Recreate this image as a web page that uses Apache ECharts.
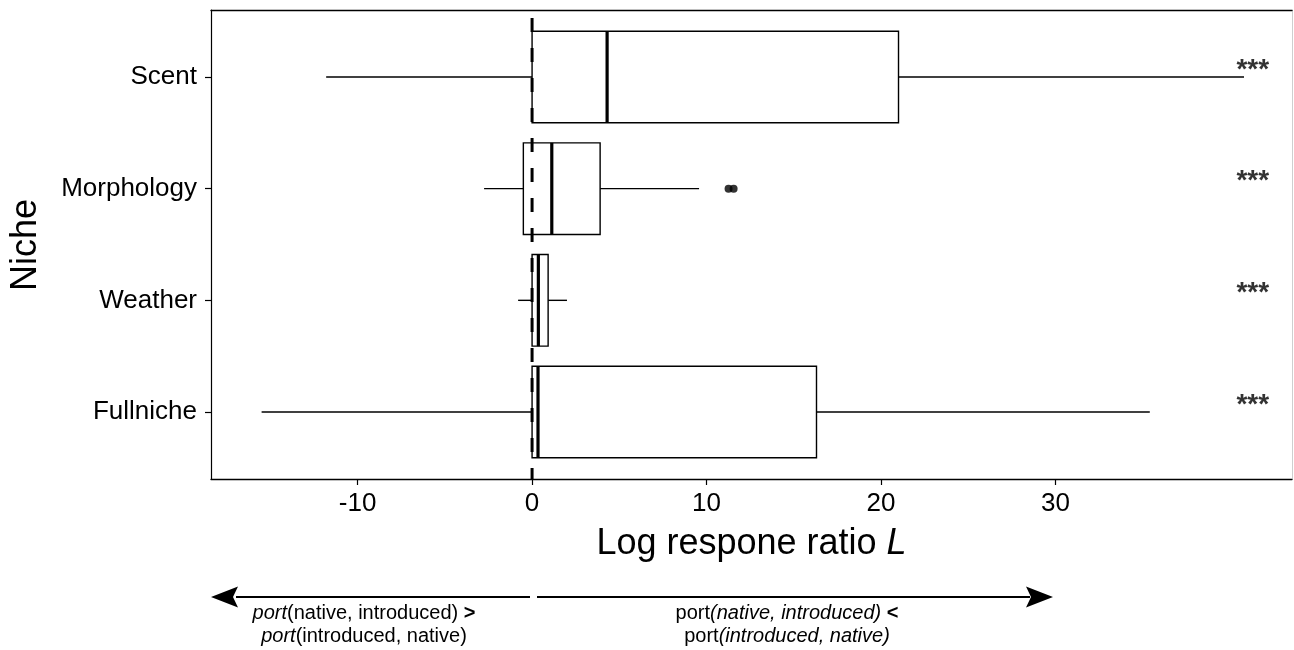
<!DOCTYPE html>
<html>
<head>
<meta charset="utf-8">
<script src="https://cdn.jsdelivr.net/npm/echarts@6/dist/echarts.min.js"></script>
<style>
html,body{margin:0;padding:0;background:#fff;}
#chart{width:1294px;height:650px;}
</style>
</head>
<body>
<div id="chart"></div>
<script>
// ---- data ----
const categories = ['Scent', 'Morphology', 'Weather', 'Fullniche'];
const whiskerLow  = [-11.8, -2.75, -0.8, -15.5];
const q1          = [0.0,  -0.5,   0.0,  0.0];
const medians     = [4.3,   1.13,  0.36, 0.34];
const q3          = [21.0,  3.9,   0.92, 16.3];
const whiskerHigh = [40.8,  9.57,  2.0,  35.4];
const outlierValues = [11.26, 11.55];
const outlierCats   = ['Morphology', 'Morphology'];
const significance = ['***', '***', '***', '***'];
const xTicks = [-10, 0, 10, 20, 30];
const xRange = [-18.4, 43.55];

const FONT = '"Liberation Sans", Arial, Helvetica, sans-serif';
const chart = echarts.init(document.getElementById('chart'), null, {renderer: 'canvas'});

const catPos = categories.map((c, i) => i + 1);
const boxData = categories.map((c, i) => [catPos[i], whiskerLow[i], q1[i], medians[i], q3[i], whiskerHigh[i]]);
const outlierData = outlierValues.map((v, i) => [v, categories.indexOf(outlierCats[i]) + 1]);
const starX = 41.3;
const starData = significance.map((s, i) => ({value: [starX, catPos[i]], label: {formatter: s}}));

const HALF = 0.41; // box half height in category units

function renderBox(params, api) {
  const y = api.value(0);
  const lo = api.value(1), a = api.value(2), m = api.value(3), b = api.value(4), hi = api.value(5);
  const pLo = api.coord([lo, y]);
  const pA = api.coord([a, y]);
  const pM = api.coord([m, y]);
  const pB = api.coord([b, y]);
  const pHi = api.coord([hi, y]);
  const top = api.coord([a, y - HALF])[1];
  const bot = api.coord([a, y + HALF])[1];
  const line = {stroke: '#000', lineWidth: 1.4};
  return {
    type: 'group',
    children: [
      {type: 'line', shape: {x1: pLo[0], y1: pLo[1], x2: pA[0], y2: pA[1]}, style: line},
      {type: 'line', shape: {x1: pB[0], y1: pB[1], x2: pHi[0], y2: pHi[1]}, style: line},
      {type: 'rect', shape: {x: pA[0], y: top, width: pB[0] - pA[0], height: bot - top},
        style: {fill: '#fff', stroke: '#000', lineWidth: 1.4}},
      {type: 'line', shape: {x1: pM[0], y1: top, x2: pM[0], y2: bot},
        style: {stroke: '#000', lineWidth: 3.2}}
    ]
  };
}

function arrowHead(tipX, y, dir) {
  // dir = -1 points left, +1 points right
  const L = 27, H = 10.5, notch = 5;
  return [
    [tipX, y],
    [tipX - dir * L, y - H],
    [tipX - dir * (L - notch), y],
    [tipX - dir * L, y + H]
  ];
}

const arrowY = 597;
const annotRich = {
  i: {fontStyle: 'italic', fontSize: 20, fontFamily: FONT, lineHeight: 23},
  b: {fontWeight: 'bold', fontSize: 20, fontFamily: FONT, lineHeight: 23}
};
const option = {
  backgroundColor: '#fff',
  animation: false,
  grid: {left: 211, right: 2, top: 10, bottom: 171, containLabel: false},
  xAxis: [{
    type: 'value', min: xRange[0], max: xRange[1],
    axisLine: {show: true, lineStyle: {color: '#000', width: 1.3}},
    axisTick: {show: true, customValues: xTicks, length: 6, lineStyle: {color: '#000', width: 1.2}},
    axisLabel: {show: true, customValues: xTicks, fontSize: 26, color: '#000', fontFamily: FONT, margin: 12},
    splitLine: {show: false},
    name: 'Log respone ratio {it|L}',
    nameLocation: 'middle', nameGap: 47,
    nameTextStyle: {fontSize: 36, color: '#000', fontFamily: FONT,
      rich: {it: {fontSize: 36, fontStyle: 'italic', color: '#000', fontFamily: FONT}}}
  }, {
    type: 'value', min: xRange[0], max: xRange[1], position: 'top',
    axisLine: {show: true, onZero: false, lineStyle: {color: '#000', width: 1.3}},
    axisTick: {show: false}, axisLabel: {show: false}, splitLine: {show: false}
  }],
  yAxis: [{
    type: 'value', min: 0.4, max: 4.6, inverse: true,
    axisLine: {show: true, onZero: false, lineStyle: {color: '#000', width: 1.2}},
    axisTick: {show: true, customValues: catPos, length: 6, lineStyle: {color: '#000', width: 1.2}},
    axisLabel: {show: true, customValues: catPos, fontSize: 26, color: '#000', fontFamily: FONT, margin: 14,
      formatter: v => categories[Math.round(v) - 1] || ''},
    splitLine: {show: false}
  }, {
    type: 'value', min: 0.4, max: 4.6, inverse: true, position: 'right',
    axisLine: {show: true, onZero: false, lineStyle: {color: '#cfcfcf', width: 1}},
    axisTick: {show: false}, axisLabel: {show: false}, splitLine: {show: false}
  }],
  series: [{
    type: 'custom',
    renderItem: renderBox,
    encode: {x: [1, 2, 3, 4, 5], y: 0},
    data: boxData,
    z: 2
  }, {
    type: 'scatter',
    data: outlierData,
    symbol: 'circle', symbolSize: 8,
    itemStyle: {color: '#000'},
    z: 3
  }, {
    type: 'line',
    data: [[0, 0.4], [0, 4.6]],
    symbol: 'none',
    lineStyle: {color: '#000', width: 3, type: [14, 16], dashOffset: 22},
    z: 5
  }, {
    type: 'scatter',
    data: starData,
    symbolSize: 0,
    label: {show: true, position: 'inside', fontSize: 28, fontWeight: 'bold', color: '#000', fontFamily: FONT, offset: [0, -7]},
    z: 6
  }],
  graphic: [
    {type: 'text', x: 26, y: 245, rotation: Math.PI / 2,
      style: {text: 'Niche', fontSize: 36, fontFamily: FONT, fill: '#000', align: 'center', verticalAlign: 'middle'}},
    {type: 'line', shape: {x1: 236, y1: arrowY, x2: 530, y2: arrowY}, style: {stroke: '#000', lineWidth: 2}},
    {type: 'polygon', shape: {points: arrowHead(211, arrowY, -1)}, style: {fill: '#000'}},
    {type: 'line', shape: {x1: 537, y1: arrowY, x2: 1030, y2: arrowY}, style: {stroke: '#000', lineWidth: 2}},
    {type: 'polygon', shape: {points: arrowHead(1053, arrowY, 1)}, style: {fill: '#000'}},
    {type: 'text', x: 364, y: 625,
      style: {text: '{i|port}(native, introduced) {b|>}\n{i|port}(introduced, native)',
        fontSize: 20, fontFamily: FONT, fill: '#000', align: 'center', verticalAlign: 'middle', lineHeight: 23,
        rich: annotRich}},
    {type: 'text', x: 787, y: 625,
      style: {text: 'port{i|(native, introduced)} {b|<}\nport{i|(introduced, native)}',
        fontSize: 20, fontFamily: FONT, fill: '#000', align: 'center', verticalAlign: 'middle', lineHeight: 23,
        rich: annotRich}}
  ]
};
chart.setOption(option);
</script>
</body>
</html>
